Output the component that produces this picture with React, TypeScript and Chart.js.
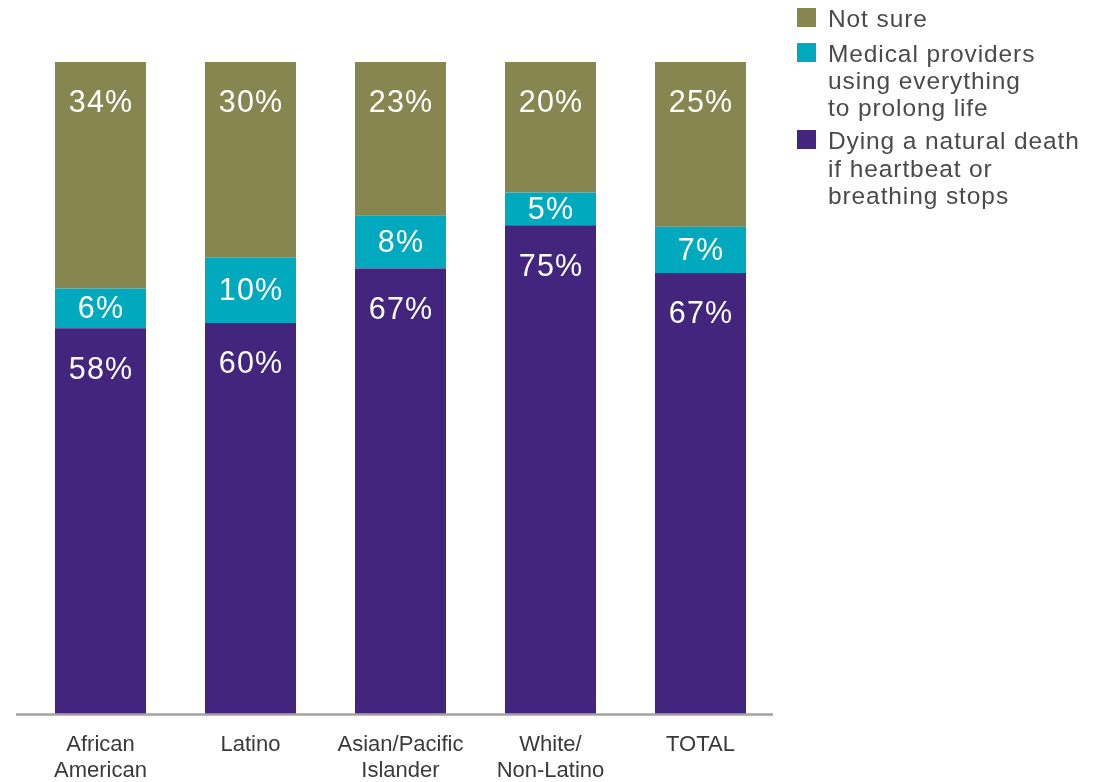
import { useEffect, useRef } from 'react';
import { Chart, registerables } from 'chart.js';

Chart.register(...registerables);

const categories: string[][] = [
  ['African', 'American'],
  ['Latino'],
  ['Asian/Pacific', 'Islander'],
  ['White/', 'Non-Latino'],
  ['TOTAL'],
];
const naturalDeath = [58, 60, 67, 75, 67];
const everything = [6, 10, 8, 5, 7];
const notSure = [34, 30, 23, 20, 25];

const seriesNames = ['Dying a natural death if heartbeat or breathing stops', 'Medical providers using everything to prolong life', 'Not sure'];
const seriesColors = ['#43257d', '#00a9bd', '#878650'];

const legendItems = [
  { color: '#878650', lines: ['Not sure'] },
  { color: '#00a9bd', lines: ['Medical providers', 'using everything', 'to prolong life'] },
  { color: '#43257d', lines: ['Dying a natural death', 'if heartbeat or', 'breathing stops'] },
];

export default function App() {
  const ref = useRef<HTMLCanvasElement>(null);

  useEffect(() => {
    const raw = [naturalDeath, everything, notSure];
    const totals = categories.map((_, j) => raw.reduce((s, arr) => s + arr[j], 0));
    const norm = raw.map((arr) => arr.map((v, j) => (v / totals[j]) * 100));

    const labelPlugin = {
      id: 'segLabels',
      afterDatasetsDraw(chart: any) {
        const ctx = chart.ctx;
        ctx.save();
        ctx.fillStyle = '#ffffff';
        ctx.font = '30.5px "Liberation Sans", Arial, sans-serif';
        (ctx as any).letterSpacing = '1.2px';
        ctx.textAlign = 'center';
        ctx.textBaseline = 'middle';
        raw.forEach((arr, i) => {
          const meta = chart.getDatasetMeta(i);
          meta.data.forEach((bar: any, j: number) => {
            const p = bar.getProps(['x', 'y', 'base'], true);
            const yy = i === 1 ? (p.y + p.base) / 2 + 1.5 : p.y + 42;
            ctx.fillText(arr[j] + '%', p.x + 0.6, yy);
          });
        });
        ctx.restore();
      },
      afterDraw(chart: any) {
        const ctx = chart.ctx;
        const area = chart.chartArea;
        ctx.save();
        ctx.strokeStyle = '#a3a3a3';
        ctx.lineWidth = 2.5;
        ctx.beginPath();
        ctx.moveTo(16, area.bottom);
        ctx.lineTo(773, area.bottom);
        ctx.stroke();

        // legend
        ctx.font = '24.5px "Liberation Sans", Arial, sans-serif';
        (ctx as any).letterSpacing = '0.9px';
        ctx.textAlign = 'left';
        ctx.textBaseline = 'alphabetic';
        const baselines = [[27], [62, 89, 116], [149, 177, 204]];
        legendItems.forEach((it, k) => {
          const b0 = baselines[k][0];
          ctx.fillStyle = it.color;
          ctx.fillRect(797, b0 - 19, 19, 19);
          ctx.fillStyle = '#4a4a4a';
          it.lines.forEach((ln, m) => {
            ctx.fillText(ln, 828, baselines[k][m]);
          });
        });
        ctx.restore();
      },
    };

    const chart = new Chart(ref.current!, {
      type: 'bar',
      data: {
        labels: categories,
        datasets: norm.map((arr, i) => ({
          label: seriesNames[i],
          data: arr,
          backgroundColor: seriesColors[i],
          borderWidth: 0,
          barPercentage: 0.607,
          categoryPercentage: 1,
        })),
      },
      options: {
        animation: false,
        responsive: false,
        layout: { padding: { left: 25.5, right: 331.5, top: 62, bottom: 0 } },
        plugins: {
          legend: { display: false },
          tooltip: { enabled: false },
        },
        scales: {
          x: {
            stacked: true,
            grid: { display: false, drawTicks: false },
            border: { display: false },
            ticks: {
              color: '#3a3a3a',
              padding: 18,
              font: { family: '"Liberation Sans", Arial, sans-serif', size: 22, lineHeight: 1.17 },
            },
          },
          y: {
            stacked: true,
            min: 0,
            max: 100,
            display: false,
          },
        },
      },
      plugins: [labelPlugin],
    });
    return () => chart.destroy();
  }, []);

  return (
    <div style={{ position: 'fixed', left: 0, top: 0, width: 1107, height: 782, overflow: 'hidden', background: '#fff' }}>
      <canvas ref={ref} width={1107} height={802} style={{ width: 1107, height: 802, display: 'block' }} />
    </div>
  );
}
